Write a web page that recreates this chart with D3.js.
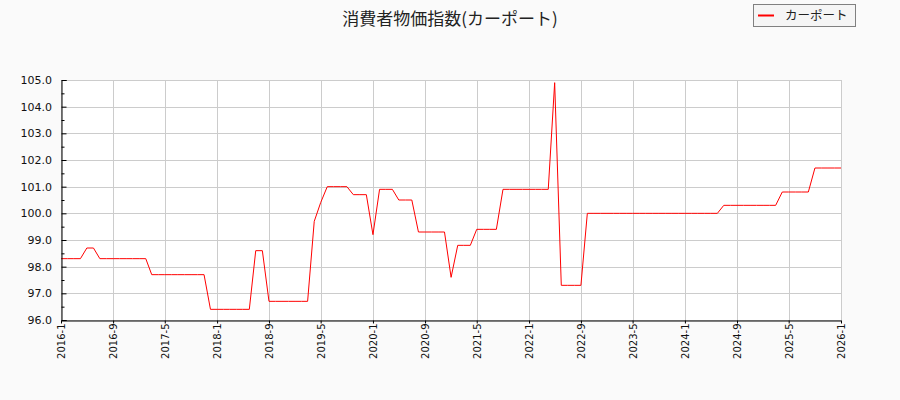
<!DOCTYPE html>
<html>
<head>
<meta charset="utf-8">
<script src="https://cdn.jsdelivr.net/npm/d3@7"></script>
<style>
  body { margin: 0; background: #fafafa; }
  svg { display: block; }
</style>
</head>
<body>
<script>
// monthly index values, 2016-1 .. 2026-1
const months = [
  "2016-1","2016-2","2016-3","2016-4","2016-5","2016-6","2016-7","2016-8","2016-9","2016-10","2016-11","2016-12",
  "2017-1","2017-2","2017-3","2017-4","2017-5","2017-6","2017-7","2017-8","2017-9","2017-10","2017-11","2017-12",
  "2018-1","2018-2","2018-3","2018-4","2018-5","2018-6","2018-7","2018-8","2018-9","2018-10","2018-11","2018-12",
  "2019-1","2019-2","2019-3","2019-4","2019-5","2019-6","2019-7","2019-8","2019-9","2019-10","2019-11","2019-12",
  "2020-1","2020-2","2020-3","2020-4","2020-5","2020-6","2020-7","2020-8","2020-9","2020-10","2020-11","2020-12",
  "2021-1","2021-2","2021-3","2021-4","2021-5","2021-6","2021-7","2021-8","2021-9","2021-10","2021-11","2021-12",
  "2022-1","2022-2","2022-3","2022-4","2022-5","2022-6","2022-7","2022-8","2022-9","2022-10","2022-11","2022-12",
  "2023-1","2023-2","2023-3","2023-4","2023-5","2023-6","2023-7","2023-8","2023-9","2023-10","2023-11","2023-12",
  "2024-1","2024-2","2024-3","2024-4","2024-5","2024-6","2024-7","2024-8","2024-9","2024-10","2024-11","2024-12",
  "2025-1","2025-2","2025-3","2025-4","2025-5","2025-6","2025-7","2025-8","2025-9","2025-10","2025-11","2025-12",
  "2026-1"
];
const values = [
  98.3, 98.3, 98.3, 98.3, 98.7, 98.7, 98.3, 98.3, 98.3, 98.3, 98.3, 98.3,
  98.3, 98.3, 97.7, 97.7, 97.7, 97.7, 97.7, 97.7, 97.7, 97.7, 97.7, 96.4,
  96.4, 96.4, 96.4, 96.4, 96.4, 96.4, 98.6, 98.6, 96.7, 96.7, 96.7, 96.7,
  96.7, 96.7, 96.7, 99.7, 100.4, 101.0, 101.0, 101.0, 101.0, 100.7, 100.7, 100.7,
  99.2, 100.9, 100.9, 100.9, 100.5, 100.5, 100.5, 99.3, 99.3, 99.3, 99.3, 99.3,
  97.6, 98.8, 98.8, 98.8, 99.4, 99.4, 99.4, 99.4, 100.9, 100.9, 100.9, 100.9,
  100.9, 100.9, 100.9, 100.9, 104.9, 97.3, 97.3, 97.3, 97.3, 100.0, 100.0, 100.0,
  100.0, 100.0, 100.0, 100.0, 100.0, 100.0, 100.0, 100.0, 100.0, 100.0, 100.0, 100.0,
  100.0, 100.0, 100.0, 100.0, 100.0, 100.0, 100.3, 100.3, 100.3, 100.3, 100.3, 100.3,
  100.3, 100.3, 100.3, 100.8, 100.8, 100.8, 100.8, 100.8, 101.7, 101.7, 101.7, 101.7,
  101.7
];
const xTickLabels = ["2016-1","2016-9","2017-5","2018-1","2018-9","2019-5","2020-1","2020-9",
  "2021-5","2022-1","2022-9","2023-5","2024-1","2024-9","2025-5","2026-1"];
const yTicks = [96, 97, 98, 99, 100, 101, 102, 103, 104, 105];
const yMinorTicks = [96.5, 97.5, 98.5, 99.5, 100.5, 101.5, 102.5, 103.5, 104.5];
const seriesName = "カーポート";
const title = "消費者物価指数(カーポート)";

const W = 900, H = 400;
const m = { left: 61, right: 59, top: 80, bottom: 80 };

const parse = d3.timeParse("%Y-%m");
const fmt = d => d.getFullYear() + "-" + (d.getMonth() + 1);
const data = months.map((s, i) => ({ date: parse(s), v: values[i] }));

const svg = d3.select("body").append("svg").attr("width", W).attr("height", H);

const x = d3.scaleTime()
  .domain([parse("2016-1"), parse("2026-1")])
  .range([m.left, W - m.right]);
const y = d3.scaleLinear().domain([96, 105]).range([H - m.bottom, m.top]);

svg.append("rect")
  .attr("x", m.left).attr("y", m.top)
  .attr("width", W - m.left - m.right).attr("height", H - m.top - m.bottom)
  .attr("fill", "#ffffff");

// grid
const xTicks = xTickLabels.map(parse);
svg.append("g").selectAll("line").data(xTicks).enter().append("line")
  .attr("x1", d => Math.round(x(d)) + 0.5).attr("x2", d => Math.round(x(d)) + 0.5)
  .attr("y1", m.top).attr("y2", H - m.bottom)
  .attr("stroke", "#cccccc").attr("stroke-width", 1);
svg.append("g").selectAll("line").data(yTicks).enter().append("line")
  .attr("x1", m.left).attr("x2", W - m.right)
  .attr("y1", d => Math.round(y(d)) + 0.5).attr("y2", d => Math.round(y(d)) + 0.5)
  .attr("stroke", "#cccccc").attr("stroke-width", 1);

// line
const line = d3.line().x(d => x(d.date)).y(d => y(d.v));
svg.append("path").datum(data)
  .attr("d", line)
  .attr("fill", "none")
  .attr("stroke", "#ff0000")
  .attr("stroke-width", 1);

// y axis, ticks inside
const yAxis = svg.append("g").attr("transform", `translate(${m.left + 0.5},0)`)
  .call(d3.axisRight(y).tickValues(yTicks).tickSize(5).tickFormat(""));
yAxis.select(".domain").attr("stroke", "#000");
yAxis.selectAll(".tick line").attr("stroke", "#000");
svg.append("g").attr("transform", `translate(${m.left + 0.5},0)`)
  .call(d3.axisRight(y).tickValues(yMinorTicks).tickSize(3).tickFormat(""))
  .call(g => g.select(".domain").remove())
  .selectAll(".tick line").attr("stroke", "#000");
svg.append("g").selectAll("text").data(yTicks).enter().append("text")
  .attr("x", m.left - 9).attr("y", d => y(d))
  .attr("dy", "0.36em")
  .attr("text-anchor", "end")
  .attr("font-family", "DejaVu Sans")
  .attr("font-size", 11)
  .attr("fill", "#111")
  .text(d => d.toFixed(1));

// x axis
const xAxis = svg.append("g").attr("transform", `translate(0,${H - m.bottom + 0.5})`)
  .call(d3.axisBottom(x).tickValues(xTicks).tickSize(3).tickSizeOuter(0).tickFormat(fmt));
xAxis.select(".domain").attr("stroke", "#000");
xAxis.selectAll(".tick line").attr("stroke", "#000");
xAxis.selectAll(".tick text")
  .attr("font-family", "DejaVu Sans")
  .attr("font-size", 10)
  .attr("fill", "#111")
  .attr("transform", "rotate(-90)")
  .attr("text-anchor", "end")
  .attr("x", -3)
  .attr("y", 0)
  .attr("dy", "0.35em");

// title
svg.append("text")
  .attr("x", 450).attr("y", 25)
  .attr("text-anchor", "middle")
  .attr("font-family", "Noto Sans CJK JP")
  .attr("font-size", 17)
  .attr("fill", "#222")
  .text(title);

// legend
const lg = svg.append("g");
lg.append("rect")
  .attr("x", 753.5).attr("y", 4.5).attr("width", 102).attr("height", 22)
  .attr("fill", "#f5f5f5").attr("stroke", "#808080");
lg.append("line")
  .attr("x1", 758).attr("x2", 774).attr("y1", 15.5).attr("y2", 15.5)
  .attr("stroke", "#ff0000").attr("stroke-width", 2);
lg.append("text")
  .attr("x", 785).attr("y", 20)
  .attr("font-family", "Noto Sans CJK JP")
  .attr("font-size", 12.5)
  .attr("fill", "#222")
  .text(seriesName);
</script>
</body>
</html>
